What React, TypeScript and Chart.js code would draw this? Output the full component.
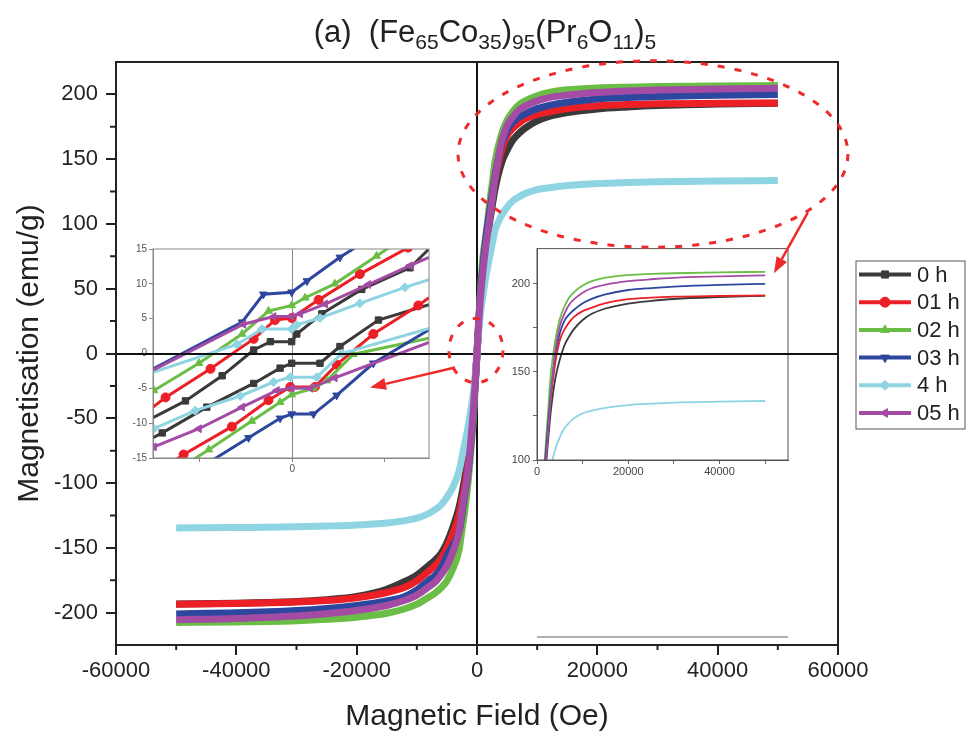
import React, { useEffect, useRef } from 'react';
import { Chart, registerables } from 'chart.js';
import { drawPoint } from 'chart.js/helpers';

Chart.register(...registerables);
Chart.defaults.font.family = '"Liberation Sans", Arial, Helvetica, sans-serif';

// ---------- series meta ----------
const SERIES_LABELS = ['0 h', '01 h', '02 h', '03 h', '4 h', '05 h'];
const SERIES_COLORS = ['#3a3a3a', '#ec1f26', '#6abd45', '#2c479d', '#8fd4e2', '#a44ba4'];
const SERIES_MARKERS = ['rect', 'circle', 'triangle', 'triangle', 'rectRot', 'triangle'];
const SERIES_ROTATIONS = [0, 0, 0, 180, 0, -90];

// ---------- main axes ticks ----------
const MAIN_X_TICKS = [-60000, -40000, -20000, 0, 20000, 40000, 60000];
const MAIN_Y_TICKS = [-200, -150, -100, -50, 0, 50, 100, 150, 200];

// ---------- main hysteresis curves (field magnitude, Oe) ----------
const FIELD_STEPS = [0, 300, 600, 1000, 1500, 2000, 2500, 3000, 4000, 5000, 6000, 7000, 8000, 10000, 12000, 15000, 20000, 25000, 30000, 40000, 50000];

const M_POS_0H = [0, 22, 40, 60, 80, 98, 113, 127, 146, 157, 165, 170, 174, 179.5, 183, 186, 188.8, 190.3, 191.4, 192.5, 193.2];
const M_POS_01H = [0, 24, 44, 66, 88, 105, 120, 134, 155, 168, 174, 178, 181, 184.5, 186.5, 189, 191.3, 192.2, 192.7, 193.1, 193.4];
const M_POS_02H = [0, 27, 50, 75, 92, 112, 130, 148, 168, 180, 187, 192, 195, 199, 201.5, 203.5, 205, 205.6, 206, 206.5, 206.8];
const M_POS_03H = [0, 26, 47, 68, 90, 106, 122, 137, 160, 172, 179, 182.5, 185, 189, 191.5, 194, 196.5, 197.6, 198.4, 199.4, 200];
const M_POS_4H = [0, 18, 32, 45, 60, 72, 84, 95, 106, 113, 118, 121, 123.5, 126.5, 128, 129.6, 131.2, 132, 132.6, 133.1, 133.5];
const M_POS_05H = [0, 25, 45, 64, 84, 100, 118, 135, 162, 176, 183, 188, 191, 195, 197.5, 199.5, 201.5, 202.6, 203.4, 204.2, 204.8];

const M_NEG_0H = [0, -20, -38, -58, -78, -95, -108, -119, -134, -146, -154.5, -159.5, -163.5, -171, -176, -182, -187.5, -190, -191.5, -192.7, -193.3];
const M_NEG_01H = [0, -22, -42, -63, -85, -101, -114, -125, -139, -150, -158.5, -164, -168, -175.5, -180.5, -184.5, -188.5, -190.7, -191.8, -192.9, -193.6];
const M_NEG_02H = [0, -26, -50, -74, -100, -120, -136, -152, -166, -175.5, -181, -185, -188, -193.5, -197, -200.5, -203.5, -205.2, -206.3, -207.2, -207.6];
const M_NEG_03H = [0, -24, -45, -68, -92, -108, -124, -138, -148, -156, -166, -171.5, -175, -182.5, -187.5, -191, -194.5, -196.8, -198.4, -200.2, -201];
const M_NEG_4H = [0, -17, -30, -43, -57, -69, -80, -91, -103, -111, -117, -120.5, -123.5, -127, -129, -130.8, -132.4, -133.2, -133.8, -134.3, -134.6];
const M_NEG_05H = [0, -23, -43, -66, -90, -106, -122, -138, -153, -164, -171, -176.5, -180, -186.5, -190.5, -194.5, -198.3, -200.8, -202.6, -204.5, -205.5];

const MAIN_POS = [M_POS_0H, M_POS_01H, M_POS_02H, M_POS_03H, M_POS_4H, M_POS_05H];
const MAIN_NEG = [M_NEG_0H, M_NEG_01H, M_NEG_02H, M_NEG_03H, M_NEG_4H, M_NEG_05H];

// ---------- low-field inset loops (Oe, emu/g) ----------
const INSET0_UP_X = [-300, -230, -151, -83, -47, -1, 10, 64, 150, 254, 295];
const INSET0_UP_Y = [-9.2, -6.8, -3.2, 0.5, 1.7, 1.7, 2.8, 5.7, 9.2, 12.3, 15];
const INSET0_DN_X = [-300, -280, -184, -83, -26, -1, 60, 103, 186, 295];
const INSET0_DN_Y = [-12.1, -11.4, -7.7, -4.3, -2.1, -1.4, -1.4, 1.0, 4.8, 7.0];

const INSET1_UP_X = [-300, -273, -176, -83, -37, -1, 57, 146, 250, 295];
const INSET1_UP_Y = [-7.7, -6.3, -2.2, 2.1, 4.8, 5.1, 7.7, 11.4, 15.2, 17];
const INSET1_DN_X = [-300, -234, -130, -51, -4, 49, 96, 175, 272, 295];
const INSET1_DN_Y = [-17.5, -14.5, -10.5, -6.7, -4.8, -4.8, -1.6, 2.8, 6.9, 8.0];

const INSET2_UP_X = [-298, -201, -108, -51, -1, 28, 92, 182, 295];
const INSET2_UP_Y = [-5.3, -1.4, 2.8, 6.1, 6.9, 8.0, 10.0, 14.0, 19];
const INSET2_DN_X = [-300, -180, -87, -26, -1, 46, 75, 132, 295];
const INSET2_DN_Y = [-19, -13.8, -9.7, -7.0, -5.9, -5.0, -3.9, -0.1, 2.2];

const INSET3_UP_X = [-300, -108, -62, -1, 32, 103, 295];
const INSET3_UP_Y = [-2.2, 4.5, 8.5, 8.8, 10.4, 13.8, 22];
const INSET3_DN_X = [-300, -94, -26, -1, 46, 96, 175, 295];
const INSET3_DN_Y = [-20.6, -12.1, -9.3, -8.7, -8.7, -6.0, -1.4, 3.4];

const INSET4_UP_X = [-300, -119, -65, -1, 10, 60, 146, 243, 295];
const INSET4_UP_Y = [-2.7, 1.3, 3.5, 3.5, 4.1, 5.1, 7.2, 9.5, 10.6];
const INSET4_DN_X = [-298, -209, -112, -40, -4, 53, 107, 295];
const INSET4_DN_Y = [-10.8, -8.2, -6.1, -4.1, -3.4, -3.4, 0, 3.6];

const INSET5_UP_X = [-300, -105, -40, -1, 17, 71, 164, 254, 295];
const INSET5_UP_Y = [-2.4, 4.2, 5.3, 5.3, 5.7, 7.1, 9.9, 12.6, 13.8];
const INSET5_DN_X = [-298, -201, -108, -33, -1, 39, 92, 295];
const INSET5_DN_Y = [-13.4, -10.8, -7.7, -5.3, -5.0, -5.0, -3.5, 1.6];

const INSET_UP = [
  [INSET0_UP_X, INSET0_UP_Y], [INSET1_UP_X, INSET1_UP_Y], [INSET2_UP_X, INSET2_UP_Y],
  [INSET3_UP_X, INSET3_UP_Y], [INSET4_UP_X, INSET4_UP_Y], [INSET5_UP_X, INSET5_UP_Y],
];
const INSET_DN = [
  [INSET0_DN_X, INSET0_DN_Y], [INSET1_DN_X, INSET1_DN_Y], [INSET2_DN_X, INSET2_DN_Y],
  [INSET3_DN_X, INSET3_DN_Y], [INSET4_DN_X, INSET4_DN_Y], [INSET5_DN_X, INSET5_DN_Y],
];
const LEFT_INSET_X_TICKS = [-200, 0, 200];
const LEFT_INSET_Y_TICKS = [-15, -10, -5, 0, 5, 10, 15];
const RIGHT_INSET_X_TICKS = [0, 10000, 20000, 30000, 40000, 50000];
const RIGHT_INSET_Y_TICKS = [100, 125, 150, 175, 200];

// ---------- annotations (data units of main chart) ----------
const ELLIPSES = [
  { cx: 29250, cy: 154, rx: 32400, ry: 72 },
  { cx: -170, cy: 2.3, rx: 4490, ry: 24.8 },
];
const ARROWS = [
  { x1: -3650, y1: -10.8, x2: -17780, y2: -26.3 },
  { x1: 55000, y1: 109, x2: 49360, y2: 62 },
];

const TITLE_PARTS: [string, boolean][] = [
  ['(a)  (Fe', false], ['65', true], ['Co', false], ['35', true], [')', false], ['95', true],
  ['(Pr', false], ['6', true], ['O', false], ['11', true], [')', false], ['5', true],
];

const FONT = '"Liberation Sans", Arial, Helvetica, sans-serif';
const INK = '#222';

function buildLoop(pos: number[], neg: number[]) {
  const pts: { x: number; y: number }[] = [];
  for (let i = FIELD_STEPS.length - 1; i >= 1; i--) pts.push({ x: -FIELD_STEPS[i], y: neg[i] });
  for (let i = 0; i < FIELD_STEPS.length; i++) pts.push({ x: FIELD_STEPS[i], y: pos[i] });
  return pts;
}
function buildHalf(pos: number[]) {
  return FIELD_STEPS.map((f, i) => ({ x: f, y: pos[i] }));
}
function zip(xs: number[], ys: number[]) {
  return xs.map((x, i) => ({ x, y: ys[i] }));
}
const setTicks = (list: number[]) => (s: any) => { s.ticks = list.map((value) => ({ value })); };

const framePlugin = (color: string, width: number) => ({
  id: 'frame',
  afterDraw(chart: any) {
    const { ctx, chartArea: a } = chart;
    ctx.save();
    ctx.strokeStyle = color;
    ctx.lineWidth = width;
    ctx.strokeRect(a.left, a.top, a.right - a.left, a.bottom - a.top);
    ctx.restore();
  },
});

const mainDecor = {
  id: 'mainDecor',
  afterDraw(chart: any) {
    const { ctx, chartArea: a, scales } = chart;
    const xs = scales.x, ys = scales.y;
    ctx.save();
    // frame
    ctx.strokeStyle = INK;
    ctx.lineWidth = 2;
    ctx.strokeRect(a.left, a.top, a.right - a.left, a.bottom - a.top);
    // minor ticks
    ctx.beginPath();
    for (let i = 0; i < MAIN_X_TICKS.length - 1; i++) {
      const px = xs.getPixelForValue((MAIN_X_TICKS[i] + MAIN_X_TICKS[i + 1]) / 2);
      ctx.moveTo(px, a.bottom); ctx.lineTo(px, a.bottom + 5);
    }
    for (let i = 0; i < MAIN_Y_TICKS.length - 1; i++) {
      const py = ys.getPixelForValue((MAIN_Y_TICKS[i] + MAIN_Y_TICKS[i + 1]) / 2);
      ctx.moveTo(a.left, py); ctx.lineTo(a.left - 6, py);
    }
    ctx.stroke();

    // title with subscripts
    const big = `31px ${FONT}`, small = `21px ${FONT}`;
    let total = 0;
    for (const [t, sub] of TITLE_PARTS) { ctx.font = sub ? small : big; total += ctx.measureText(t).width; }
    let x = 485 - total / 2;
    ctx.fillStyle = INK;
    ctx.textBaseline = 'alphabetic';
    ctx.textAlign = 'left';
    for (const [t, sub] of TITLE_PARTS) {
      ctx.font = sub ? small : big;
      ctx.fillText(t, x, sub ? 49 : 42);
      x += ctx.measureText(t).width;
    }

    // dashed ellipses
    ctx.strokeStyle = '#ee2a2a';
    ctx.lineWidth = 3;
    ctx.setLineDash([7, 10]);
    for (const e of ELLIPSES) {
      const cx = xs.getPixelForValue(e.cx), cy = ys.getPixelForValue(e.cy);
      const rx = Math.abs(xs.getPixelForValue(e.cx + e.rx) - cx);
      const ry = Math.abs(ys.getPixelForValue(e.cy + e.ry) - cy);
      ctx.beginPath();
      ctx.ellipse(cx, cy, rx, ry, 0, 0, Math.PI * 2);
      ctx.stroke();
    }
    ctx.setLineDash([]);
    // arrows
    ctx.fillStyle = '#ee2a2a';
    ctx.lineWidth = 2.5;
    for (const r of ARROWS) {
      const x1 = xs.getPixelForValue(r.x1), y1 = ys.getPixelForValue(r.y1);
      const x2 = xs.getPixelForValue(r.x2), y2 = ys.getPixelForValue(r.y2);
      const ang = Math.atan2(y2 - y1, x2 - x1);
      const hl = 16, hw = 6;
      const bx = x2 - hl * Math.cos(ang), by = y2 - hl * Math.sin(ang);
      ctx.beginPath(); ctx.moveTo(x1, y1); ctx.lineTo(bx, by); ctx.stroke();
      ctx.beginPath();
      ctx.moveTo(x2, y2);
      ctx.lineTo(bx + hw * Math.sin(ang), by - hw * Math.cos(ang));
      ctx.lineTo(bx - hw * Math.sin(ang), by + hw * Math.cos(ang));
      ctx.closePath(); ctx.fill();
    }

    // legend
    const lx = a.right + 18, ly = 261, lw = 109, lh = 168;
    ctx.strokeStyle = '#555';
    ctx.lineWidth = 1;
    ctx.strokeRect(lx, ly, lw, lh);
    ctx.font = `22px ${FONT}`;
    ctx.textBaseline = 'middle';
    chart.data.datasets.forEach((ds: any, i: number) => {
      const y = ly + 13.5 + i * 27.7;
      ctx.strokeStyle = ds.borderColor;
      ctx.fillStyle = ds.borderColor;
      ctx.lineWidth = 4;
      ctx.beginPath(); ctx.moveTo(lx + 3, y); ctx.lineTo(lx + 55, y); ctx.stroke();
      ctx.lineWidth = 1;
      drawPoint(ctx, { pointStyle: ds.legendMarker, rotation: ds.legendRotation, radius: 5, borderWidth: 1 }, lx + 29, y);
      ctx.fillStyle = INK;
      ctx.fillText(ds.label, lx + 61, y + 1);
    });
    ctx.restore();
  },
};

const zeroOnly = (col: string) => (c: any) => (c.tick && c.tick.value === 0 ? col : 'rgba(0,0,0,0)');

function mainConfig(): any {
  return {
    type: 'line',
    data: {
      datasets: SERIES_LABELS.map((label, i) => ({
        label,
        data: buildLoop(MAIN_POS[i], MAIN_NEG[i]),
        borderColor: SERIES_COLORS[i],
        backgroundColor: SERIES_COLORS[i],
        borderWidth: 7,
        pointRadius: 0,
        cubicInterpolationMode: 'monotone',
        order: -i,
        legendMarker: SERIES_MARKERS[i],
        legendRotation: SERIES_ROTATIONS[i],
      })),
    },
    options: {
      animation: false,
      responsive: false,
      devicePixelRatio: 1,
      layout: { padding: { left: 0, top: 62, right: 130, bottom: 0 } },
      plugins: { legend: { display: false }, tooltip: { enabled: false }, title: { display: false } },
      scales: {
        x: {
          type: 'linear', min: -60000, max: 60000,
          afterBuildTicks: setTicks(MAIN_X_TICKS),
          afterFit: (s: any) => { s.height = 91; },
          ticks: { autoSkip: false, maxRotation: 0, padding: 3, color: INK, font: { size: 22 }, callback: (v: any) => String(v) },
          grid: { color: zeroOnly('#111'), lineWidth: 2, drawTicks: true, tickLength: 10, tickColor: INK, tickWidth: 2 },
          border: { display: true, color: INK, width: 2 },
          title: { display: true, text: 'Magnetic Field (Oe)', color: INK, font: { size: 30 }, padding: { top: 0, bottom: 1 } },
        },
        y: {
          type: 'linear', min: -225, max: 225,
          afterBuildTicks: setTicks(MAIN_Y_TICKS),
          afterFit: (s: any) => { s.width = 116; },
          ticks: { autoSkip: false, padding: 8, color: INK, font: { size: 22 }, callback: (v: any) => String(v) },
          grid: { color: zeroOnly('#111'), lineWidth: 2, drawTicks: true, tickLength: 10, tickColor: INK, tickWidth: 2 },
          border: { display: true, color: INK, width: 2 },
          title: { display: true, text: 'Magnetisation (emu/g)', color: INK, font: { size: 30 }, padding: { top: 12, bottom: 0 } },
        },
      },
    },
    plugins: [mainDecor],
  };
}

function leftInsetConfig(): any {
  const datasets: any[] = [];
  SERIES_LABELS.forEach((label, i) => {
    for (const branch of [INSET_UP[i], INSET_DN[i]]) {
      datasets.push({
        label,
        data: zip(branch[0], branch[1]),
        borderColor: SERIES_COLORS[i],
        backgroundColor: SERIES_COLORS[i],
        borderWidth: 3,
        order: -i,
        pointStyle: SERIES_MARKERS[i],
        pointRotation: SERIES_ROTATIONS[i],
        pointBackgroundColor: SERIES_COLORS[i],
        pointBorderColor: SERIES_COLORS[i],
        pointBorderWidth: 1,
        pointRadius: (c: any) => {
          const r = c.raw;
          return r && (r.x <= -300 || r.x >= 295) ? 0 : 4.5;
        },
        tension: 0,
      });
    }
  });
  return {
    type: 'line',
    data: { datasets },
    options: {
      animation: false,
      responsive: false,
      devicePixelRatio: 1,
      layout: { padding: { left: 0, top: 9, right: 10, bottom: 0 } },
      plugins: { legend: { display: false }, tooltip: { enabled: false } },
      scales: {
        x: {
          type: 'linear', min: -300, max: 295,
          afterBuildTicks: setTicks(LEFT_INSET_X_TICKS),
          afterFit: (s: any) => { s.height = 17; },
          ticks: { autoSkip: false, maxRotation: 0, padding: 1, color: '#555', font: { size: 10 }, callback: (v: any) => (v === 0 ? '0' : '') },
          grid: { color: zeroOnly('#888'), lineWidth: 1, tickLength: 4, tickColor: '#888' },
          border: { display: true, color: '#888', width: 1 },
        },
        y: {
          type: 'linear', min: -15, max: 15,
          afterBuildTicks: setTicks(LEFT_INSET_Y_TICKS),
          afterFit: (s: any) => { s.width = 30; },
          ticks: { autoSkip: false, padding: 2, color: '#555', font: { size: 10 }, callback: (v: any) => String(v) },
          grid: { color: 'rgba(0,0,0,0)', tickLength: 4, tickColor: '#888' },
          border: { display: true, color: '#888', width: 1 },
        },
      },
    },
    plugins: [framePlugin('#888', 1)],
  };
}

function rightInsetConfig(): any {
  return {
    type: 'line',
    data: {
      datasets: SERIES_LABELS.map((label, i) => ({
        label,
        data: buildHalf(MAIN_POS[i]),
        borderColor: SERIES_COLORS[i],
        borderWidth: 1.8,
        pointRadius: 0,
        order: -i,
        cubicInterpolationMode: 'monotone',
      })),
    },
    options: {
      animation: false,
      responsive: false,
      devicePixelRatio: 1,
      layout: { padding: { left: 0, top: 8, right: 12, bottom: 0 } },
      plugins: { legend: { display: false }, tooltip: { enabled: false } },
      scales: {
        x: {
          type: 'linear', min: 0, max: 55000,
          afterBuildTicks: setTicks(RIGHT_INSET_X_TICKS),
          afterFit: (s: any) => { s.height = 18; },
          ticks: { autoSkip: false, maxRotation: 0, padding: 1, color: '#444', font: { size: 11 }, callback: (v: any) => (Number(v) % 20000 === 0 ? String(v) : '') },
          grid: { color: 'rgba(0,0,0,0)', tickLength: 4, tickColor: '#666' },
          border: { display: true, color: '#555', width: 1 },
        },
        y: {
          type: 'linear', min: 100, max: 220,
          afterBuildTicks: setTicks(RIGHT_INSET_Y_TICKS),
          afterFit: (s: any) => { s.width = 30; },
          ticks: { autoSkip: false, padding: 3, color: '#444', font: { size: 11 }, callback: (v: any) => (Number(v) % 50 === 0 ? String(v) : '') },
          grid: { color: 'rgba(0,0,0,0)', tickLength: 4, tickColor: '#666' },
          border: { display: true, color: '#555', width: 1 },
        },
      },
    },
    plugins: [framePlugin('#555', 1)],
  };
}

export default function App() {
  const mainRef = useRef<HTMLCanvasElement>(null);
  const leftRef = useRef<HTMLCanvasElement>(null);
  const rightRef = useRef<HTMLCanvasElement>(null);

  useEffect(() => {
    const charts = [
      new Chart(leftRef.current as HTMLCanvasElement, leftInsetConfig()),
      new Chart(rightRef.current as HTMLCanvasElement, rightInsetConfig()),
      new Chart(mainRef.current as HTMLCanvasElement, mainConfig()),
    ];
    return () => charts.forEach((c) => c.destroy());
  }, []);

  return (
    <div style={{ position: 'absolute', left: 0, top: 0, width: 968, height: 736, background: '#fff', overflow: 'hidden' }}>
      <canvas ref={leftRef} width={316} height={235} style={{ position: 'absolute', left: 123, top: 240, zIndex: 1 }} />
      <canvas ref={rightRef} width={293} height={239} style={{ position: 'absolute', left: 507, top: 239, zIndex: 1 }} />
      <div style={{ position: 'absolute', left: 537, top: 636, width: 251, borderTop: '2px solid #b0b0b0', zIndex: 1 }} />
      <canvas ref={mainRef} width={968} height={736} style={{ position: 'absolute', left: 0, top: 0, zIndex: 2, pointerEvents: 'none' }} />
    </div>
  );
}
